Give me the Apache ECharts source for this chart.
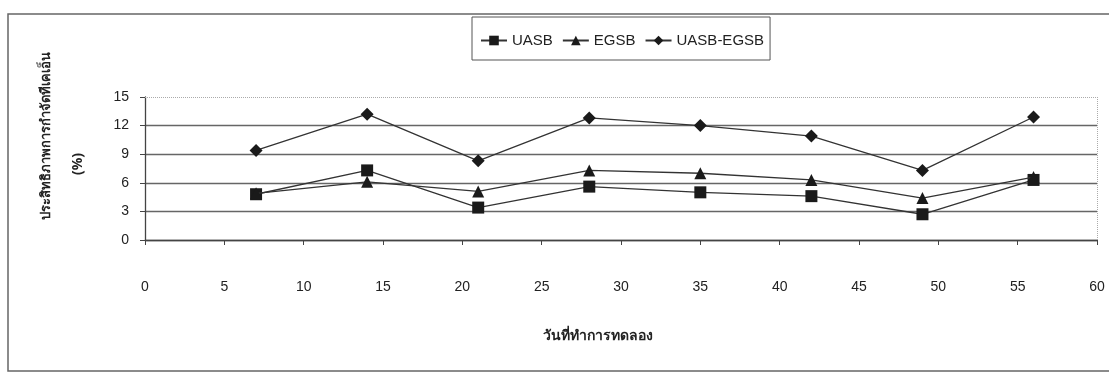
<!DOCTYPE html>
<html>
<head>
<meta charset="utf-8">
<script src="https://cdn.jsdelivr.net/npm/echarts@6/dist/echarts.min.js"></script>
<style>
  html, body { margin: 0; padding: 0; background: #fff; }
  #chart { width: 1109px; height: 376px; }
</style>
</head>
<body>
<div id="chart"></div>
<script>
// Experiment day and TKN removal efficiency (%) for each reactor
const days = [7, 14, 21, 28, 35, 42, 49, 56];
const uasb = [4.8, 7.3, 3.4, 5.6, 5.0, 4.6, 2.7, 6.3];
const egsb = [4.9, 6.1, 5.1, 7.3, 7.0, 6.3, 4.4, 6.6];
const uasbEgsb = [9.4, 13.2, 8.3, 12.8, 12.0, 10.9, 7.3, 12.9];
const xTicks = [0, 5, 10, 15, 20, 25, 30, 35, 40, 45, 50, 55, 60];
const yTicks = [0, 3, 6, 9, 12, 15];

const seriesNames = ['UASB', 'EGSB', 'UASB-EGSB'];
const seriesSymbols = ['rect', 'triangle', 'diamond'];
const seriesSizes = [12, 12, 13];
const seriesValues = [uasb, egsb, uasbEgsb];

const ink = '#1a1a1a';
const font = '"Liberation Sans", Arial, sans-serif';

const chart = echarts.init(document.getElementById('chart'));

const series = seriesNames.map((name, i) => ({
  name,
  type: 'line',
  data: days.map((d, j) => [d, seriesValues[i][j]]),
  symbol: seriesSymbols[i],
  symbolSize: seriesSizes[i],
  showAllSymbol: true,
  itemStyle: { color: ink },
  lineStyle: { color: '#333', width: 1.3 },
  z: 3 + i
}));

// dotted frame on the top and right of the plot area
series.push({
  name: 'frame',
  type: 'line',
  data: [],
  silent: true,
  markLine: {
    silent: true,
    symbol: 'none',
    label: { show: false },
    lineStyle: { color: '#aaa', type: 'dotted', width: 1 },
    data: [{ yAxis: yTicks[yTicks.length - 1] }, { xAxis: xTicks[xTicks.length - 1] }]
  }
});

chart.setOption({
  animation: false,
  backgroundColor: '#fff',
  grid: { left: 145, top: 97, right: 12, bottom: 136 },
  legend: {
    data: seriesNames,
    left: 472,
    top: 17,
    padding: [16, 6, 12, 8],
    itemGap: 9,
    itemWidth: 26,
    itemHeight: 12,
    borderColor: '#555',
    borderWidth: 1,
    textStyle: { fontFamily: font, fontSize: 15, color: '#222' }
  },
  xAxis: {
    type: 'value',
    min: xTicks[0],
    max: xTicks[xTicks.length - 1],
    interval: 5,
    axisLine: { show: true, onZero: false, lineStyle: { color: '#444', width: 1.3 } },
    axisTick: { show: true, length: 5, lineStyle: { color: '#444' } },
    axisLabel: { margin: 40, fontFamily: font, fontSize: 14, color: '#222' },
    splitLine: { show: false }
  },
  yAxis: {
    type: 'value',
    min: yTicks[0],
    max: yTicks[yTicks.length - 1],
    interval: 3,
    axisLine: { show: true, lineStyle: { color: '#444', width: 1.3 } },
    axisTick: { show: true, length: 5, lineStyle: { color: '#444' } },
    axisLabel: { margin: 16, fontFamily: font, fontSize: 14, color: '#222' },
    splitLine: { show: true, showMaxLine: false, lineStyle: { color: '#666', width: 1.3 } }
  },
  series,
  graphic: [
    {
      type: 'rect',
      shape: { x: 8, y: 14, width: 1120, height: 357 },
      style: { fill: 'none', stroke: '#666', lineWidth: 1.5 },
      silent: true
    },
    {
      type: 'text',
      x: 598, y: 336,
      style: {
        text: 'วันที่ทำการทดลอง',
        font: 'bold 14px "Noto Sans", "DejaVu Sans", sans-serif',
        fill: '#222', align: 'center', verticalAlign: 'middle'
      }
    },
    {
      type: 'text',
      x: 46, y: 136,
      rotation: Math.PI / 2,
      style: {
        text: 'ประสิทธิภาพการกำจัดทีเคเอ็น',
        font: 'bold 13px "Noto Sans", "DejaVu Sans", sans-serif',
        fill: '#222', align: 'center', verticalAlign: 'middle'
      }
    },
    {
      type: 'text',
      x: 78, y: 164,
      rotation: Math.PI / 2,
      style: {
        text: '(%)',
        font: 'bold 14px "Noto Sans", "DejaVu Sans", sans-serif',
        fill: '#222', align: 'center', verticalAlign: 'middle'
      }
    }
  ]
});
</script>
</body>
</html>
